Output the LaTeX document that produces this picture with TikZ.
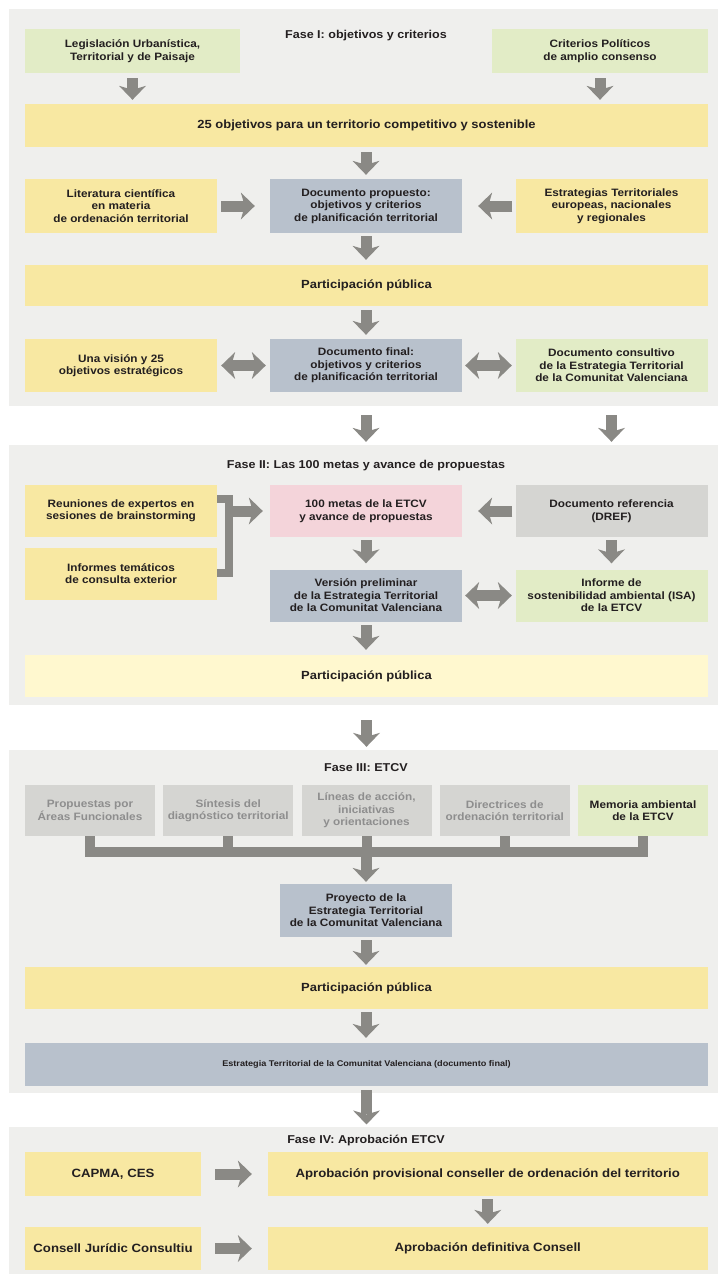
\documentclass[tikz,border=0pt]{standalone}
\usepackage{fontspec}
\setmainfont{Liberation Sans}[FakeStretch=1.1]
\usetikzlibrary{arrows.meta,calc}
\definecolor{panel}{HTML}{EFEFED}
\definecolor{ylw}{HTML}{F8E8A2}
\definecolor{ylwl}{HTML}{FFF8CF}
\definecolor{grn}{HTML}{E2ECC6}
\definecolor{blu}{HTML}{B8C1CC}
\definecolor{pnk}{HTML}{F4D4DA}
\definecolor{gry}{HTML}{D5D5D2}
\definecolor{arr}{HTML}{8A8985}
\definecolor{txt}{HTML}{231F20}
\definecolor{gtxt}{HTML}{8E8E8E}
\begin{document}
\begin{tikzpicture}[x=1pt,y=-1pt,
  box/.style={rectangle, inner sep=0pt, align=center, text=txt,
    font=\bfseries\fontsize{10.7}{12.5}\selectfont},
  sbox/.style={box, minimum width=192, minimum height=53},
  bar/.style={box, minimum width=683, minimum height=42,
    font=\bfseries\fontsize{11.8}{13}\selectfont},
  pbox/.style={box, fill=ylw, font=\bfseries\fontsize{12}{13}\selectfont},
  ttl/.style={inner sep=0pt, text=txt, font=\bfseries\fontsize{11.4}{13}\selectfont},
  gbox/.style={box, fill=gry, minimum width=130, minimum height=51, text=gtxt},
  blk/.style={draw=arr, line width=11pt,
    -{Stealth[length=14pt,width=27pt,inset=4pt,line width=0pt]}},
  dbl/.style={draw=arr, line width=11pt,
    {Stealth[length=14pt,width=27pt,inset=4pt,line width=0pt]}-{Stealth[length=14pt,width=27pt,inset=4pt,line width=0pt]}},
  brk/.style={draw=arr, line width=8pt, line join=miter},
  busline/.style={draw=arr, line width=10pt, line join=miter}
]
\useasboundingbox (0,0) rectangle (718,1274);
\fill[white] (0,0) rectangle (718,1274);
% panels
\fill[panel] (9,9) rectangle (718,406);
\fill[panel] (9,445) rectangle (718,705);
\fill[panel] (9,750) rectangle (718,1093);
\fill[panel] (9,1127) rectangle (718,1274);

% ---------------- Phase I
\node[ttl] (t1) at (366,36) {Fase I: objetivos y criterios};
\node[box, fill=grn, minimum width=215, minimum height=44] (leg) at (132.5,51)
  {Legislación Urbanística,\\Territorial y de Paisaje};
\node[box, fill=grn, minimum width=216, minimum height=44] (crit) at (600,51)
  {Criterios Políticos\\de amplio consenso};
\node[bar, fill=ylw, minimum height=43] (obj) at (366.5,125)
  {25 objetivos para un territorio competitivo y sostenible};
\node[sbox, fill=ylw, minimum height=54] (lit) at (121,206)
  {Literatura científica\\en materia\\de ordenación territorial};
\node[sbox, fill=blu, minimum height=54] (docp) at (366,206)
  {Documento propuesto:\\objetivos y criterios\\de planificación territorial};
\node[sbox, fill=ylw, minimum height=54] (estr) at (611.5,206)
  {Estrategias Territoriales\\europeas, nacionales\\y regionales};
\node[bar, fill=ylw, minimum height=41] (part1) at (366.5,285.5) {Participación pública};
\node[sbox, fill=ylw] (vis) at (121,365.5) {Una visión y 25\\objetivos estratégicos};
\node[sbox, fill=blu] (docf) at (366,365.5)
  {Documento final:\\objetivos y criterios\\de planificación territorial};
\node[sbox, fill=grn] (cons) at (611.5,365.5)
  {Documento consultivo\\de la Estrategia Territorial\\de la Comunitat Valenciana};

\draw[blk, shorten <=5pt, shorten >=3.5pt] (leg.south) -- (leg.south |- obj.north);
\draw[blk, shorten <=5pt, shorten >=3.5pt] (crit.south) -- (crit.south |- obj.north);
\draw[blk, shorten <=5.5pt, shorten >=4pt] (docp.north |- obj.south) -- (docp.north);
\draw[blk, shorten <=4pt, shorten >=15pt] (lit.east) -- (docp.west);
\draw[blk, shorten <=3pt, shorten >=16pt] (estr.west) -- (docp.east);
\draw[blk, shorten <=3pt, shorten >=5pt] (docp.south) -- (docp.south |- part1.north);
\draw[blk, shorten <=4pt, shorten >=4pt] (docf.north |- part1.south) -- (docf.north);
\draw[dbl, shorten <=4pt, shorten >=4pt] (vis.east) -- (docf.west);
\draw[dbl, shorten <=3pt, shorten >=3.5pt] (docf.east) -- (cons.west);

% ---------------- Phase II
\node[ttl] (t2) at (366,466) {Fase II: Las 100 metas y avance de propuestas};
\node[sbox, fill=ylw, minimum height=52] (reun) at (121,511)
  {Reuniones de expertos en\\sesiones de brainstorming};
\node[sbox, fill=ylw, minimum height=52] (inf) at (121,573.5)
  {Informes temáticos\\de consulta exterior};
\node[sbox, fill=pnk, minimum height=52] (metas) at (366,511)
  {100 metas de la ETCV\\y avance de propuestas};
\node[sbox, fill=gry, minimum height=52] (dref) at (611.5,511)
  {Documento referencia\\(DREF)};
\node[sbox, fill=blu, minimum height=52] (ver) at (366,595.5)
  {Versión preliminar\\de la Estrategia Territorial\\de la Comunitat Valenciana};
\node[sbox, fill=grn, minimum height=52] (isa) at (611.5,595.5)
  {Informe de\\sostenibilidad ambiental (ISA)\\de la ETCV};
\node[bar, fill=ylwl] (part2) at (366.5,676) {Participación pública};

\draw[blk, shorten <=23pt, shorten >=43pt] (docf.south) -- (metas.north);
\draw[blk, shorten <=23pt, shorten >=43pt] (cons.south) -- (dref.north);
\coordinate (bt) at (229,499);
\coordinate (bb) at (229,573);
\draw[brk] (reun.east |- bt) -- (bt) -- (bb) -- (inf.east |- bb);
\draw[blk, shorten >=7pt] (bt |- metas.west) -- (metas.west);
\draw[blk, shorten <=3pt, shorten >=16pt] (dref.west) -- (metas.east);
\draw[blk, shorten <=3pt, shorten >=6pt] (metas.south) -- (ver.north);
\draw[blk, shorten <=3pt, shorten >=6pt] (dref.south) -- (isa.north);
\draw[dbl, shorten <=3pt, shorten >=3.5pt] (ver.east) -- (isa.west);
\draw[blk, shorten <=3.5pt, shorten >=5pt] (ver.south) -- (ver.south |- part2.north);

% ---------------- Phase III
\node[ttl] (t3) at (366,768) {Fase III: ETCV};
\node[gbox] (prop) at (90,810.5) {Propuestas por\\Áreas Funcionales};
\node[gbox] (sint) at (228.25,810.5) {Síntesis del\\diagnóstico territorial};
\node[gbox] (lin) at (366.5,810.5) {Líneas de acción,\\iniciativas\\y orientaciones};
\node[gbox] (dir) at (504.75,810.5) {Directrices de\\ordenación territorial};
\node[gbox, fill=grn, text=txt] (mem) at (643,810.5) {Memoria ambiental\\de la ETCV};
\node[box, fill=blu, minimum width=172, minimum height=53] (proj) at (366,910.5)
  {Proyecto de la\\Estrategia Territorial\\de la Comunitat Valenciana};
\node[bar, fill=ylw] (part3) at (366.5,988) {Participación pública};
\node[bar, fill=blu, minimum height=43, font=\bfseries\fontsize{8.3}{11}\selectfont] (fin) at (366.5,1064.5)
  {Estrategia Territorial de la Comunitat Valenciana (documento final)};

\draw[blk, shorten <=23pt, shorten >=38pt] (part2.south) -- (part2.south |- lin.north);
\coordinate (bus) at (0,852);
\draw[busline] (prop.south) -- (prop.south |- bus) -- (mem.south |- bus) -- (mem.south);
\draw[busline] (sint.south) -- (sint.south |- bus);
\draw[busline] (lin.south) -- (lin.south |- bus);
\draw[busline] (dir.south) -- (dir.south |- bus);
\draw[blk, shorten >=2pt] (proj.north |- bus) -- (proj.north);
\draw[blk, shorten <=3pt, shorten >=2pt] (proj.south) -- (proj.south |- part3.north);
\draw[blk, shorten <=3pt, shorten >=5pt] (proj.south |- part3.south) -- (proj.south |- fin.north);

% ---------------- Phase IV
\node[ttl] (t4) at (366,1140) {Fase IV: Aprobación ETCV};
\node[pbox, minimum width=176, minimum height=44] (capma) at (113,1174) {CAPMA, CES};
\node[pbox, minimum width=439.5, minimum height=44] (aprov) at (487.75,1174)
  {Aprobación provisional conseller de ordenación del territorio};
\node[pbox, minimum width=176, minimum height=43] (csl) at (113,1248.5) {Consell Jurídic Consultiu};
\node[pbox, minimum width=439.5, minimum height=43] (aprd) at (487.75,1248.5)
  {Aprobación definitiva Consell};

\draw[blk, shorten <=4pt, shorten >=10pt] (fin.south) -- (fin.south |- t4.north);
\draw[blk, shorten <=14pt, shorten >=16pt] (capma.east) -- (aprov.west);
\draw[blk, shorten <=14pt, shorten >=16pt] (csl.east) -- (aprd.west);
\draw[blk, shorten <=3pt, shorten >=3pt] (aprov.south) -- (aprd.north);
\end{tikzpicture}
\end{document}
